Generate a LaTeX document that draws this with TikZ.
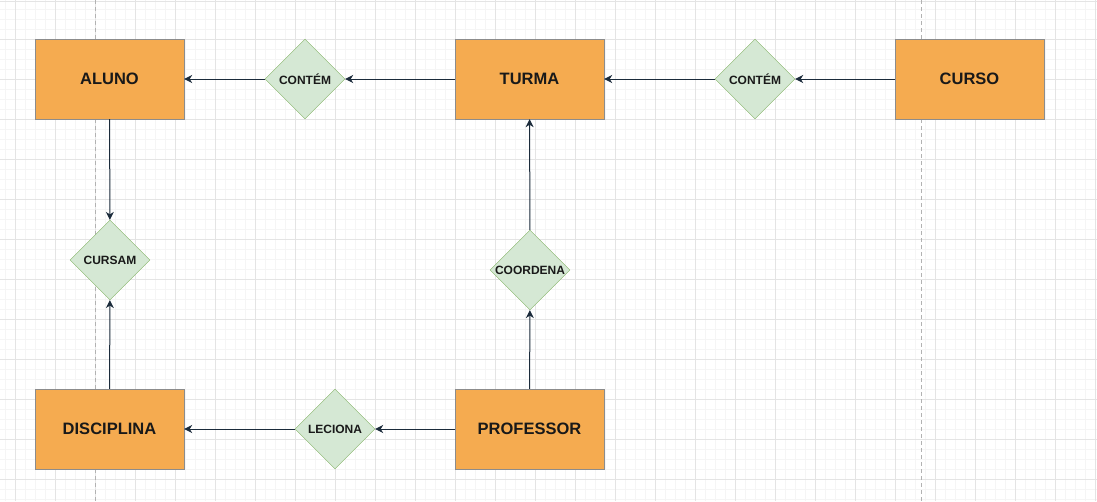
\documentclass[tikz,border=0pt]{standalone}
\usepackage{fontspec}
\setmainfont{Liberation Sans}
\usetikzlibrary{arrows.meta,shapes.geometric}
\definecolor{entfill}{HTML}{F5AB50}
\definecolor{entdraw}{HTML}{8C8C8C}
\definecolor{relfill}{HTML}{D5E8D4}
\definecolor{reldraw}{HTML}{82B366}
\definecolor{linkcol}{HTML}{1B2B3B}
\definecolor{minorcol}{HTML}{F5F5F5}
\definecolor{majorcol}{HTML}{E4E4E4}

\begin{document}
\begin{tikzpicture}
[x=1pt, y=-1pt,
entity/.style={draw=entdraw, fill=entfill, rectangle, minimum width=149pt, minimum height=80pt, inner sep=0pt,
  font=\fontsize{16.5}{18}\selectfont\bfseries, text=black!90},
relation/.style={draw=reldraw, fill=relfill, diamond, minimum width=80pt, minimum height=80pt, inner sep=0pt,
  font=\fontsize{12}{14}\selectfont\bfseries, text=black!90},
link/.style={draw=linkcol, line width=1pt, -{Stealth[length=8pt,width=8pt,inset=2.5pt]}},
minorgrid/.style={draw=minorcol, line width=0.8pt},
majorgrid/.style={draw=majorcol, line width=0.8pt}]

\useasboundingbox (0,0) rectangle (1097,501);
\fill[white] (0,0) rectangle (1097,501);

% grid
\foreach \x in {5,25,35,45,65,75,85,105,115,125} {
  \foreach \k in {0,120,240,360,480,600,720,840,960} {
    \pgfmathsetmacro\xx{\x+\k}
    \ifdim\xx pt<1097pt \draw[minorgrid] (\xx,0) -- (\xx,501); \fi
  }
}
\foreach \y in {9,19,29,49,59,69,89,99,109,129,139,149,169,179,189,209,219,229,249,259,269,289,299,309,329,339,349,369,379,389,409,419,429,449,459,469,489,499}
  \draw[minorgrid] (0,\y) -- (1097,\y);
\foreach \x in {15,55,...,1095}
  \draw[majorgrid] (\x,0) -- (\x,501);
\foreach \y in {39,79,...,479}
  \draw[majorgrid] (0,\y) -- (1097,\y);
\draw[majorgrid] (0,1.5) -- (1097,1.5);
\draw[draw=black!30, line width=0.8pt, dash pattern=on 4pt off 3pt] (95,0) -- (95,501);
\draw[draw=black!30, line width=0.8pt, dash pattern=on 4pt off 3pt] (921,0) -- (921,501);

% entities
\node[entity] (aluno) at (109.5,79) {ALUNO};
\node[entity] (turma) at (529.5,79) {TURMA};
\node[entity] (curso) at (969.5,79) {CURSO};
\node[entity] (disciplina) at (109.5,429) {DISCIPLINA};
\node[entity] (professor) at (529.5,429) {PROFESSOR};

% relations
\node[relation] (contem1) at (305,79) {CONTÉM};
\node[relation] (contem2) at (755,79) {CONTÉM};
\node[relation] (cursam) at (110,260) {CURSAM};
\node[relation] (coordena) at (530,270) {COORDENA};
\node[relation] (leciona) at (335,429) {LECIONA};

% links
\draw[link] (turma) -- (contem1);
\draw[link] (contem1) -- (aluno);
\draw[link] (curso) -- (contem2);
\draw[link] (contem2) -- (turma);
\draw[link] (aluno) -- (cursam);
\draw[link] (disciplina) -- (cursam);
\draw[link] (professor) -- (coordena);
\draw[link] (coordena) -- (turma);
\draw[link] (professor) -- (leciona);
\draw[link] (leciona) -- (disciplina);
\end{tikzpicture}
\end{document}
